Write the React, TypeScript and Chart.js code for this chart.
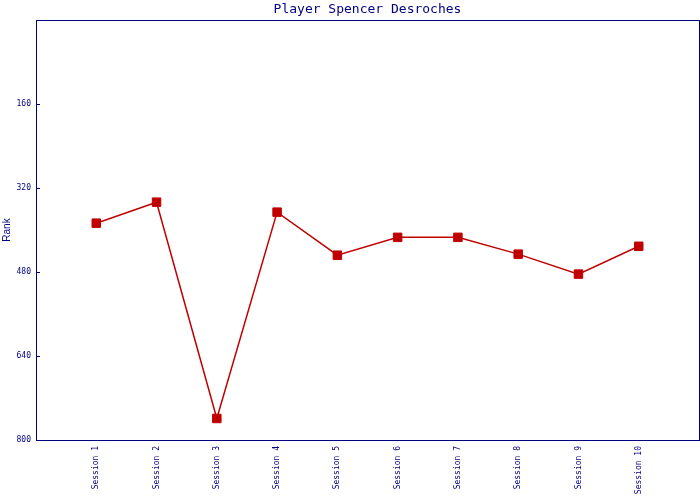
import React, { useEffect, useRef } from "react";
import { Chart, registerables } from "chart.js";

Chart.register(...registerables);

const chartTitle = "Player Spencer Desroches";
const sessions = [
  "Session 1", "Session 2", "Session 3", "Session 4", "Session 5",
  "Session 6", "Session 7", "Session 8", "Session 9", "Session 10",
];
const ranks = [387, 347, 759, 366, 448, 414, 414, 446, 484, 431];
const yTicks = [160, 320, 480, 640, 800];
const yAxisTitle = "Rank";

const NAVY = "#000080";
const RED = "#c00000";
const MONO = '"DejaVu Sans Mono", "Liberation Mono", monospace';

const framePlugin = {
  id: "frameAndTitle",
  afterDraw(chart: any) {
    const { ctx, chartArea } = chart;
    const { left, right, top, bottom } = chartArea;
    ctx.save();
    ctx.strokeStyle = NAVY;
    ctx.lineWidth = 1;
    ctx.strokeRect(left + 0.5, top + 0.5, right - left, bottom - top);
    const ys = chart.scales.y;
    ctx.beginPath();
    for (const v of yTicks) {
      const py = Math.round(ys.getPixelForValue(v)) + 0.5;
      ctx.moveTo(left, py);
      ctx.lineTo(left + 4, py);
    }
    ctx.stroke();
    ctx.fillStyle = NAVY;
    ctx.font = `13px ${MONO}`;
    ctx.textAlign = "center";
    ctx.textBaseline = "alphabetic";
    ctx.fillText(chartTitle, (left + right) / 2, 13);
    ctx.restore();
  },
};

function zeroPad(scale: any) {
  scale.paddingLeft = 0;
  scale.paddingRight = 0;
  scale.paddingTop = 0;
  scale.paddingBottom = 0;
}

export default function App() {
  const ref = useRef<HTMLCanvasElement | null>(null);
  useEffect(() => {
    if (!ref.current) return;
    const chart = new Chart(ref.current, {
      type: "line",
      data: {
        datasets: [
          {
            label: chartTitle,
            data: sessions.map((s, i) => ({ x: i + 1, y: ranks[i] })),
            borderColor: RED,
            backgroundColor: RED,
            borderWidth: 1.5,
            pointStyle: "rect",
            pointRadius: 6,
            pointBorderWidth: 1,
            pointBorderColor: RED,
            pointBackgroundColor: RED,
            tension: 0,
          },
        ],
      },
      options: {
        animation: false,
        responsive: false,
        devicePixelRatio: 1,
        layout: { autoPadding: false, padding: { top: 20, right: 1, left: 0, bottom: 0 } },
        plugins: {
          legend: { display: false },
          title: { display: false },
          tooltip: { enabled: false },
        },
        scales: {
          x: {
            type: "linear",
            min: 0,
            max: sessions.length + 1,
            afterFit(scale: any) {
              scale.height = 60;
              zeroPad(scale);
            },
            afterBuildTicks(scale: any) {
              scale.ticks = sessions.map((s, i) => ({ value: i + 1 }));
            },
            ticks: {
              autoSkip: false,
              maxRotation: 90,
              minRotation: 90,
              padding: 6,
              color: NAVY,
              font: { family: MONO, size: 8 },
              callback: (v: any) => sessions[Number(v) - 1] ?? "",
            },
            grid: { display: false, drawTicks: false },
            border: { display: false },
          },
          y: {
            type: "linear",
            min: 0,
            max: 800,
            reverse: true,
            afterFit(scale: any) {
              scale.width = 36;
              zeroPad(scale);
            },
            afterBuildTicks(scale: any) {
              scale.ticks = yTicks.map((v) => ({ value: v }));
            },
            ticks: {
              padding: 5,
              color: NAVY,
              font: { family: MONO, size: 8 },
            },
            grid: { display: false, drawTicks: false },
            border: { display: false },
            title: {
              display: true,
              text: yAxisTitle,
              color: NAVY,
              font: { family: '"Liberation Sans", Arial, sans-serif', size: 10 },
              padding: { top: 1, bottom: 0 },
            },
          },
        },
      },
      plugins: [framePlugin],
    } as any);
    return () => chart.destroy();
  }, []);
  return (
    <div style={{ position: "fixed", left: 0, top: 0, width: 700, height: 500, background: "#fff" }}>
      <canvas ref={ref} width={700} height={500} />
    </div>
  );
}
